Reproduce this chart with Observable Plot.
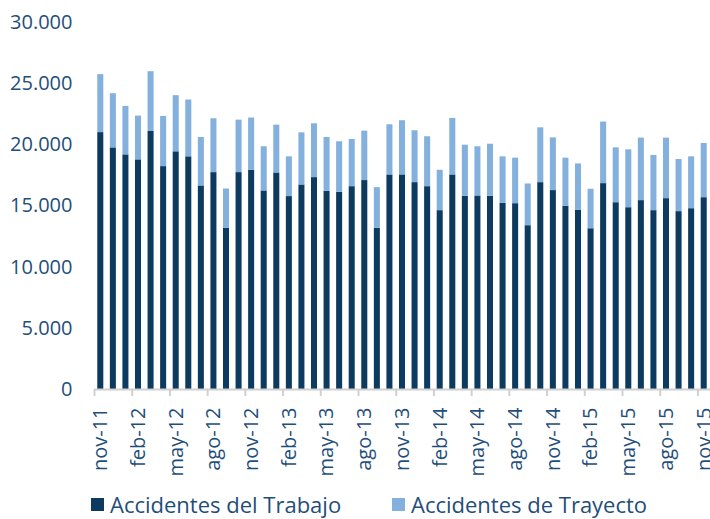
<!DOCTYPE html>
<html>
<head>
<meta charset="utf-8">
<script src="https://cdn.jsdelivr.net/npm/d3@7"></script>
<script src="https://cdn.jsdelivr.net/npm/@observablehq/plot@0.6"></script>
<style>
  html, body { margin: 0; padding: 0; background: #fff; }
  body { width: 710px; height: 519px; overflow: hidden; font-family: "Open Sans", sans-serif; }
  #legend { position: relative; height: 39px; overflow: hidden; }
  .item { position: absolute; top: 11px; display: flex; align-items: center; font-size: 22px; line-height: 26px; color: #1f4e79; white-space: nowrap; }
  .sw { width: 13px; height: 13px; margin-right: 6px; display: inline-block; }
</style>
</head>
<body>
<div id="chart"></div>
<div id="legend"></div>
<script>
const months = [
  "nov-11","dic-11","ene-12","feb-12","mar-12","abr-12","may-12","jun-12","jul-12","ago-12","sep-12","oct-12",
  "nov-12","dic-12","ene-13","feb-13","mar-13","abr-13","may-13","jun-13","jul-13","ago-13","sep-13","oct-13",
  "nov-13","dic-13","ene-14","feb-14","mar-14","abr-14","may-14","jun-14","jul-14","ago-14","sep-14","oct-14",
  "nov-14","dic-14","ene-15","feb-15","mar-15","abr-15","may-15","jun-15","jul-15","ago-15","sep-15","oct-15",
  "nov-15"
];
const trabajo = [
  21000,19750,19180,18770,21090,18220,19430,19020,16640,17730,13170,17730,
  17920,16230,17700,15770,16720,17320,16200,16120,16580,17080,13170,17540,
  17540,16910,16580,14620,17540,15790,15820,15790,15220,15190,13390,16910,
  16260,14970,14640,13140,16830,15270,14860,15440,14620,15600,14540,14780,
  15680
];
const trayecto = [
  4740,4430,3960,3580,4890,4100,4590,4640,3960,4400,3220,4290,
  4270,3610,3910,3250,4260,4400,4400,4130,3860,4040,3330,4100,
  4430,4240,4080,3300,4620,4180,4020,4260,3800,3720,3410,4480,
  4310,3940,3800,3230,5030,4480,4730,5110,4510,4950,4260,4240,
  4430
];
const seriesNames = ["Accidentes del Trabajo", "Accidentes de Trayecto"];
const seriesColors = ["#0d3b5f", "#84b0de"];
const tickLabels = ["nov-11","feb-12","may-12","ago-12","nov-12","feb-13","may-13","ago-13","nov-13","feb-14","may-14","ago-14","nov-14","feb-15","may-15","ago-15","nov-15"];
const yTicks = [0, 5000, 10000, 15000, 20000, 25000, 30000];

const rows = [];
months.forEach((m, i) => {
  rows.push({month: m, series: seriesNames[0], value: trabajo[i]});
  rows.push({month: m, series: seriesNames[1], value: trayecto[i]});
});

const textColor = "#1f4e79";
const W = 710, ML = 94, MR = 0;
const halfStep = (W - ML - MR) / months.length / 2;

const chart = Plot.plot({
  width: W,
  height: 480,
  marginLeft: ML,
  marginRight: MR,
  marginTop: 22,
  marginBottom: 91,
  style: {fontFamily: "Open Sans, sans-serif", fontSize: "20px", color: textColor, background: "#fff"},
  x: {domain: months, range: [ML, W - MR], paddingInner: 0.52, paddingOuter: 0.26, round: false},
  y: {domain: [0, 30000]},
  color: {domain: seriesNames, range: seriesColors},
  marks: [
    Plot.barY(rows, {x: "month", y: "value", fill: "series", order: seriesNames}),
    Plot.ruleY([0], {stroke: "#d0d0d0", strokeWidth: 2}),
    Plot.ruleX(tickLabels, {x: d => d, y1: 0, y2: 0, insetBottom: -7, dx: -halfStep, stroke: "#d0d0d0", strokeWidth: 2}),
    Plot.axisY({ticks: yTicks, tickSize: 0, tickPadding: 22, label: null,
      tickFormat: d => d3.format(",")(d).replace(/,/g, "."), fill: textColor, fontSize: 20}),
    Plot.axisX({ticks: tickLabels, tickSize: 0, tickPadding: 18, tickRotate: -90, label: null,
      fill: textColor, fontSize: 20})
  ]
});
document.getElementById("chart").appendChild(chart);

const legend = document.getElementById("legend");
const legendX = [91, 392];
seriesNames.forEach((name, i) => {
  const it = document.createElement("div");
  it.className = "item";
  it.style.left = legendX[i] + "px";
  it.innerHTML = `<span class="sw" style="background:${seriesColors[i]}"></span><span>${name}</span>`;
  legend.appendChild(it);
});
</script>
</body>
</html>
